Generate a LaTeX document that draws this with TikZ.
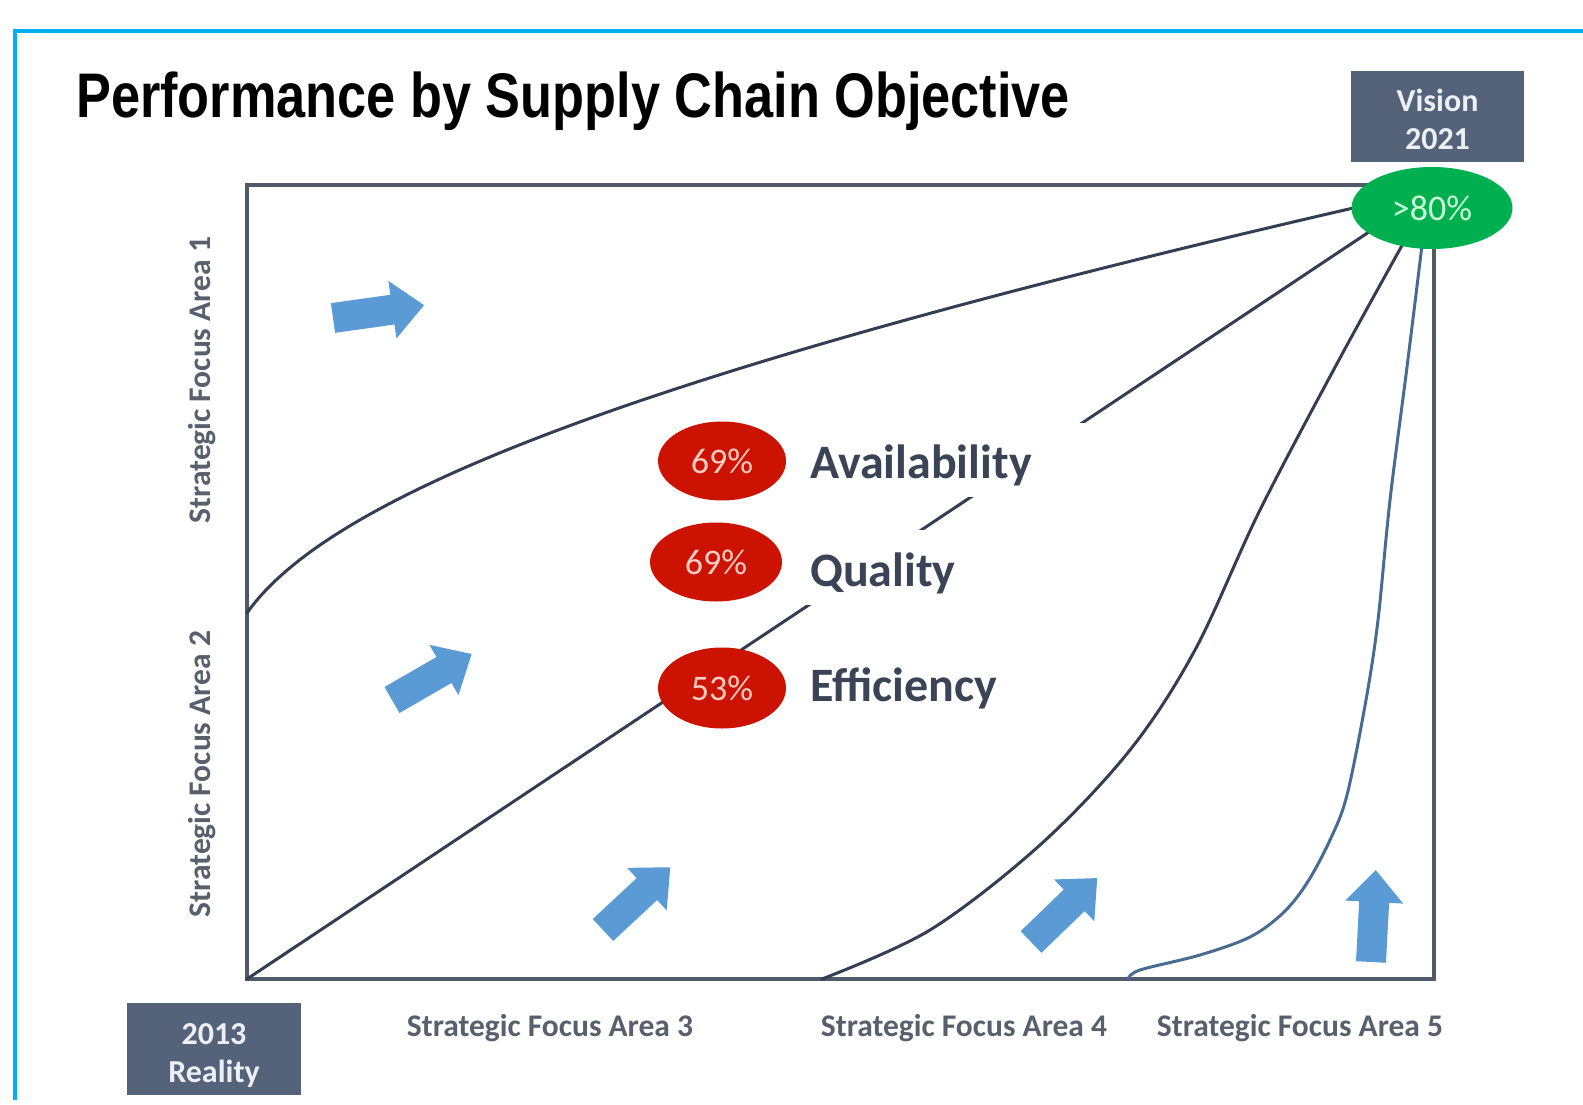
\documentclass[tikz,border=0pt]{standalone}
\usepackage{fontspec}
\newfontfamily\carlito{Carlito}
\newfontfamily\titlefont[FakeStretch=0.83]{Liberation Sans}
\usetikzlibrary{shapes.geometric}
\definecolor{framecyan}{RGB}{0,176,240}
\definecolor{plotframe}{RGB}{80,90,106}
\definecolor{curvedark}{RGB}{52,62,82}
\definecolor{curveblue}{RGB}{72,108,145}
\definecolor{slatebox}{RGB}{84,99,122}
\definecolor{boxtext}{RGB}{236,240,246}
\definecolor{greenfill}{RGB}{0,176,80}
\definecolor{greentext}{RGB}{205,255,215}
\definecolor{redfill}{RGB}{204,18,0}
\definecolor{redtext}{RGB}{255,205,195}
\definecolor{arrowblue}{RGB}{91,155,213}
\definecolor{axisgray}{RGB}{88,96,110}
\definecolor{labeldark}{RGB}{58,68,86}
\begin{document}
\begin{tikzpicture}[x=1pt,y=-1pt,
  plotbox/.style={draw=plotframe, line width=4pt},
  curveline/.style={draw=curvedark, line width=3pt, line cap=round},
  bluecurve/.style={draw=curveblue, line width=3pt, line cap=round},
  darkbox/.style={fill=slatebox, text=boxtext, inner sep=0, align=center,
    font=\carlito\bfseries\fontsize{32}{38}\selectfont},
  redell/.style={ellipse, fill=redfill, text=redtext, inner sep=0,
    minimum width=128, minimum height=79, font=\carlito\fontsize{36}{36}\selectfont},
  bigtext/.style={text=labeldark, inner sep=0, anchor=base west,
    font=\carlito\bfseries\fontsize{48}{48}\selectfont},
  axislbl/.style={text=axisgray, inner sep=0,
    font=\carlito\bfseries\fontsize{31.5}{31.5}\selectfont},
  blockarrow/.pic={\fill[arrowblue] (0,-15) -- (60,-15) -- (60,-29) -- (92,0)
     -- (60,29) -- (60,15) -- (0,15) -- cycle;}
]
\useasboundingbox (0,0) rectangle (1583,1105);
\fill[white] (0,0) rectangle (1583,1105);

% outer cyan frame
\draw[framecyan, line width=4pt] (14.5,1100) -- (14.5,31) -- (1583,31);

% title
\node[anchor=base west, inner sep=0, font=\titlefont\bfseries\fontsize{63}{63}\selectfont]
  (title) at (76,118) {Performance by Supply Chain Objective};

% named coordinates
\coordinate (origin) at (247,979);
\coordinate (fa1start) at (247,613);
\coordinate (fa4start) at (822,979);
\coordinate (fa5start) at (1128,979);
\coordinate (gtarget) at (1420,198);

% plot frame
\draw[plotbox] (247,185) rectangle (1434,979);

% curves
\draw[curveline] (fa1start) .. controls (330,495) and (640,372) .. (1362,206);
\draw[curveline] (origin) -- (gtarget);
\draw[curveline] plot[smooth, tension=0.55] coordinates {(fa4start) (930,930) (1040,845)
  (1130,750) (1195,650) (1260,510) (1340,358) (1414,224)};
\draw[bluecurve] plot[smooth, tension=0.55] coordinates {(fa5start) (1140,970) (1200,955)
  (1250,937) (1283,913) (1307,883) (1330,840) (1347,795) (1366,700) (1378,620) (1390,500)
  (1407,367) (1422,245) (1424,225)};

% white label backgrounds
\fill[white] (798,423) rectangle (1090,497);
\fill[white] (798,530) rectangle (1090,605);

% labels
\node[bigtext] (avail) at (810,478) {Availability};
\node[bigtext] (quality) at (810,586) {Quality};
\node[bigtext] (effic) at (810,701) {Efficiency};

% ellipses
\node[redell] (e1) at (722,461) {69\%};
\node[redell, minimum width=132] (e2) at (716,562) {69\%};
\node[redell, minimum height=81] (e3) at (722,688) {53\%};
\node[ellipse, fill=greenfill, text=greentext, inner sep=0, minimum width=161,
  minimum height=82, font=\carlito\fontsize{36}{36}\selectfont] (g80) at (1432,208) {>80\%};

% block arrows
\pic[rotate=8] at (333,318) {blockarrow};
\pic[rotate=30] at (392,700) {blockarrow};
\pic[rotate=43] at (603,930) {blockarrow};
\pic[rotate=44] at (1031,942) {blockarrow};
\pic[rotate=87] at (1371,962) {blockarrow};

% boxes
\node[darkbox, minimum width=173, minimum height=91] (vision) at (1437.5,116.5) {\rule{0pt}{28pt}Vision\\2021};
\node[darkbox, minimum width=174, minimum height=92, text depth=0pt] (reality) at (214,1049) {\rule{0pt}{28pt}2013\\Reality};

% axis labels
\node[axislbl, rotate=90] (fa1) at (202,380) {Strategic Focus Area 1};
\node[axislbl, rotate=90] (fa2) at (202,774) {Strategic Focus Area 2};
\node[axislbl] (fa3) at (550,1028) {Strategic Focus Area 3};
\node[axislbl] (fa4) at (964,1028) {Strategic Focus Area 4};
\node[axislbl] (fa5) at (1300,1028) {Strategic Focus Area 5};
\end{tikzpicture}
\end{document}
